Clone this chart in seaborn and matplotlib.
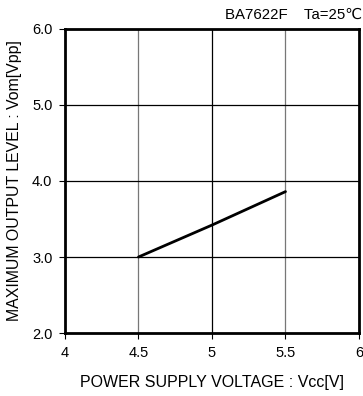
import matplotlib
matplotlib.use("Agg")
import matplotlib.pyplot as plt
import seaborn as sns
import pandas as pd

vcc = [4.5, 5.0, 5.5]
vom = [3.0, 3.42, 3.86]
x_ticks = [4, 4.5, 5, 5.5, 6]
x_labels = ["4", "4.5", "5", "5.5", "6"]
y_ticks = [2.0, 3.0, 4.0, 5.0, 6.0]
y_labels = ["2.0", "3.0", "4.0", "5.0", "6.0"]

sns.set_style("white")
plt.rcParams["font.family"] = ["Liberation Sans", "DejaVu Sans"]
plt.rcParams["text.color"] = "black"
plt.rcParams["axes.labelcolor"] = "black"
plt.rcParams["xtick.color"] = "black"
plt.rcParams["ytick.color"] = "black"

df = pd.DataFrame({"Vcc": vcc, "Vom": vom})

fig = plt.figure(figsize=(3.63, 3.96), dpi=100)
ax = fig.add_axes([0.179, 0.159, 0.81, 0.768])

# grid
for xv in x_ticks[1:-1]:
    c = "black" if xv == 5 else "#777777"
    ax.axvline(xv, color=c, lw=0.9, zorder=1)
for yv in y_ticks[1:-1]:
    ax.axhline(yv, color="black", lw=0.9, zorder=1)

sns.lineplot(data=df, x="Vcc", y="Vom", color="black", lw=2, ax=ax, zorder=3)

ax.set_xlim(4, 6)
ax.set_ylim(2, 6)
ax.set_xticks(x_ticks)
ax.set_xticklabels(x_labels)
ax.set_yticks(y_ticks)
ax.set_yticklabels(y_labels)
ax.tick_params(axis="both", direction="out", length=4, width=0.8, labelsize=10.5,
               color="black", labelcolor="black", pad=5, bottom=True, left=True)
for s in ax.spines.values():
    s.set_visible(True)
    s.set_color("black")
    s.set_linewidth(2)

ax.set_xlabel("POWER SUPPLY VOLTAGE : Vcc[V]", fontsize=11.5, labelpad=11, color="black")
ax.set_ylabel("MAXIMUM OUTPUT LEVEL : Vom[Vpp]", fontsize=11.4, labelpad=7, color="black")
fig.text(0.997, 0.963, "BA7622F    Ta=25℃", ha="right", va="center", fontsize=10.8,
         color="black")

fig.savefig("out.png", dpi=100)
